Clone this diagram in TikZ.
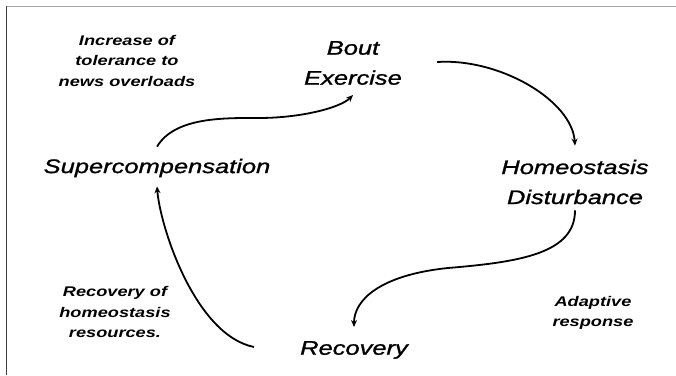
\documentclass[tikz,border=0pt]{standalone}
\usepackage{fontspec}
\newfontfamily\diagfont{Liberation Sans}[FakeStretch=1.3]
\newfontfamily\stagefont{Liberation Sans}[FakeStretch=1.3, FakeBold=1.2]
\usepackage{tikz}
\usetikzlibrary{arrows.meta}
\tikzstyle{stage} = [
    font = \stagefont\itshape\fontsize{19.6}{30}\selectfont,
    align = center,
    inner sep = 2pt
]
\tikzstyle{note} = [
    font = \diagfont\bfseries\itshape\fontsize{14}{20.5}\selectfont,
    align = center,
    inner sep = 2pt
]
\tikzstyle{flow} = [
    ->,
    >={Stealth[length=7pt,width=6pt]},
    line width = 1.8pt
]

\begin{document}
\begin{tikzpicture}[x=1pt, y=1pt]
        \useasboundingbox (0,0) rectangle (676,375);

        %% Frame
        \draw[gray!70, line width=1.4pt] (6,368.5) -- (676,368.5);
        \draw[black!75, line width=1.4pt] (6.5,369) -- (6.5,0);

        %% Stages
        \node (bout)  [stage] at (353,312) {Bout\\Exercise};
        \node (homeo) [stage] at (575,193) {Homeostasis\\Disturbance};
        \node (recov) [stage] at (354,25)  {Recovery};
        \node (super) [stage] at (157,207) {Supercompensation};

        %% Notes
        \node (incr)   [note] at (127,314) {Increase of\\tolerance to\\news overloads};
        \node (rechom) [note] at (115,63)  {Recovery of\\homeostasis\\resources.};
        \node (adapt)  [note] at (593,62)  {Adaptive\\response};

        %% Cycle
        \draw[flow] ([xshift=33pt,yshift=1pt]bout.east)
            .. controls +(63,4) and +(-3,45) .. ([yshift=12pt]homeo.north);
        \draw[flow] ([yshift=-4pt]homeo.south)
            .. controls +(0,-43) and +(72,6) .. (448,107)
            .. controls +(-68,-7) and +(0,27) .. ([yshift=12pt]recov.north);
        \draw[flow] ([xshift=-44pt,yshift=3pt]recov.west)
            .. controls +(-59,12) and +(3,-40) .. ([yshift=-7pt]super.south);
        \draw[flow] ([yshift=10pt]super.north)
            .. controls +(18,30) and +(-34,0) .. (259,257)
            .. controls +(41,0) and +(-13,-13) .. ([yshift=-8pt]bout.south);

    \end{tikzpicture}
\end{document}
